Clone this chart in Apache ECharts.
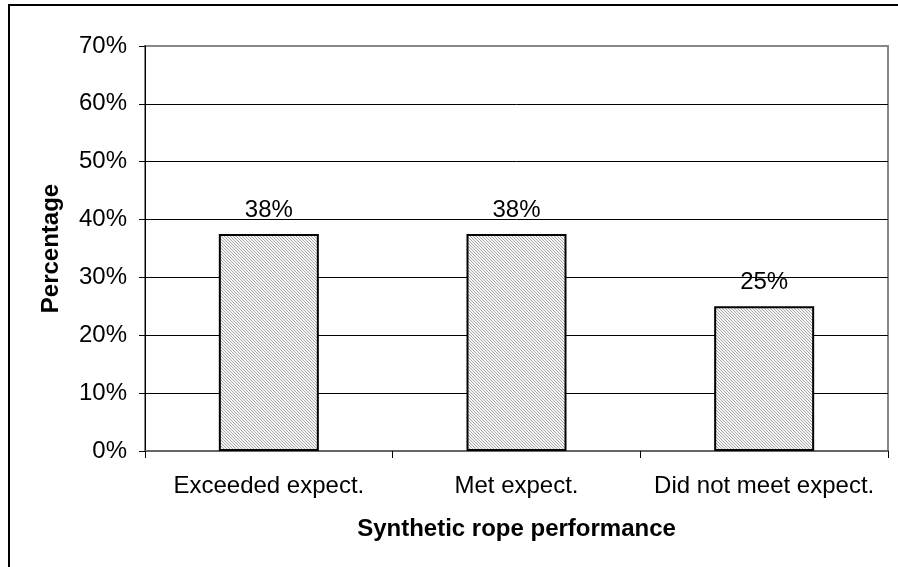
<!DOCTYPE html>
<html><head><meta charset="utf-8">
<script src="https://cdn.jsdelivr.net/npm/echarts@6/dist/echarts.min.js"></script>
<style>html,body{margin:0;padding:0;background:#fff}#c{width:898px;height:567px}</style>
</head><body><div id="c"></div>
<script>
const categories = ['Exceeded expect.', 'Met expect.', 'Did not meet expect.'];
const values = [37.5, 37.5, 25];
const valueLabels = ['38%', '38%', '25%'];
const yTicks = [0, 10, 20, 30, 40, 50, 60, 70];

function hatch() {
  const c = document.createElement('canvas');
  c.width = 3; c.height = 3;
  const g = c.getContext('2d');
  g.fillStyle = '#f4f4f4'; g.fillRect(0, 0, 3, 3);
  g.fillStyle = '#ababab';
  for (let i = 0; i < 3; i++) g.fillRect(i, i, 1, 1);
  return c;
}
const F = 'Liberation Sans, Arial, sans-serif';
const chart = echarts.init(document.getElementById('c'), null, {renderer: 'canvas'});
chart.setOption({
  animation: false,
  graphic: [{type: 'rect', shape: {x: 9, y: 5, width: 1000, height: 700}, style: {fill: 'none', stroke: '#000', lineWidth: 2}, silent: true, z: -10}],
  grid: {left: 145, top: 46, right: 10, bottom: 116, show: true, borderColor: '#888', borderWidth: 2, backgroundColor: 'transparent'},
  xAxis: {
    type: 'category', data: categories,
    axisLine: {lineStyle: {color: '#666', width: 2}},
    axisTick: {show: true, length: 7, lineStyle: {color: '#000', width: 1}},
    axisLabel: {color: '#000', fontFamily: F, fontSize: 24, margin: 23, interval: 0, hideOverlap: false},
    name: 'Synthetic rope performance', nameLocation: 'middle', nameGap: 66,
    nameTextStyle: {color: '#000', fontFamily: F, fontSize: 24, fontWeight: 'bold'}
  },
  yAxis: {
    type: 'value', min: yTicks[0], max: yTicks[yTicks.length - 1], interval: 10,
    axisLine: {show: true, lineStyle: {color: '#000', width: 1}},
    axisTick: {show: true, length: 6, lineStyle: {color: '#000'}},
    axisLabel: {color: '#000', fontFamily: F, fontSize: 24, margin: 18, formatter: v => v + '%'},
    splitLine: {show: true, lineStyle: {color: ['#000', '#000', '#000', '#000', '#000', '#000', '#000', '#888'], width: 1}},
    name: 'Percentage', nameLocation: 'middle', nameGap: 82, nameRotate: 90,
    nameTextStyle: {color: '#000', fontFamily: F, fontSize: 24, fontWeight: 'bold'}
  },
  series: [{
    type: 'bar', data: values, barWidth: 100,
    itemStyle: {color: {image: hatch(), repeat: 'repeat'}, borderColor: '#000', borderWidth: 2},
    label: {show: true, position: 'top', distance: 12, color: '#000', fontFamily: F, fontSize: 24,
      formatter: p => valueLabels[p.dataIndex]}
  }]
});
</script></body></html>
